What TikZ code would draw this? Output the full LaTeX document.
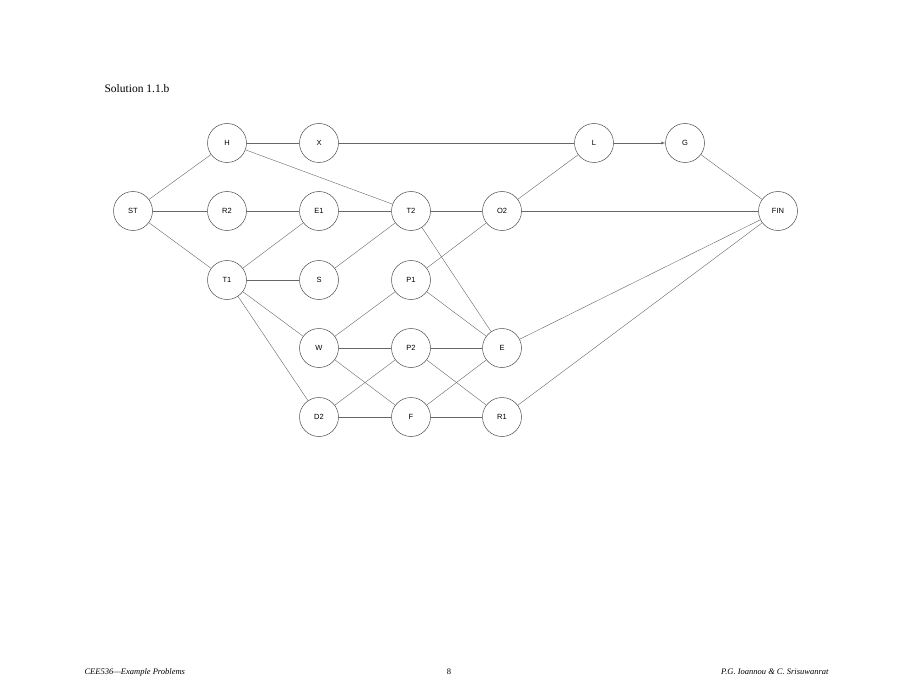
\documentclass[tikz,border=0pt]{standalone}
\usepackage{fontspec}
\setmainfont{Liberation Serif}
\newfontfamily\hv{Liberation Sans}
\begin{document}
\begin{tikzpicture}[x=1pt,y=-1pt,
  nd/.style={circle,draw=black!70,line width=0.5pt,minimum size=39pt,inner sep=0pt,font=\hv\fontsize{7.5}{9}\selectfont},
  ln/.style={draw=black!60,line width=0.4pt}]
\useasboundingbox (0,0) rectangle (899,695);
\node[anchor=west,font=\fontsize{11.5}{13}\selectfont] (title) at (101,89) {Solution 1.1.b};
\foreach \n/\x/\y in {ST/133/211,H/227/143,X/319/143,L/594/143,G/685/143,R2/227/211,E1/319/211,T2/411/211,O2/502/211,FIN/778/211,T1/227/280,S/319/280,P1/411/280,W/319/348,P2/411/348,E/502/348,D2/319/417,F/411/417,R1/502/417}
  \node[nd] (\n) at (\x,\y) {\n};
\foreach \a/\b in {ST/H,ST/R2,ST/T1,H/X,H/T2,X/L,G/FIN,R2/E1,E1/T2,E1/T1,T2/O2,T2/S,T2/E,O2/L,O2/FIN,O2/P1,T1/S,T1/W,T1/D2,P1/W,P1/E,W/P2,W/F,P2/E,P2/R1,P2/D2,D2/F,F/R1,F/E,E/FIN,R1/FIN}
  \draw[ln] (\a) -- (\b);
\draw[ln,-latex] (L) -- (G);
\node[anchor=west,font=\itshape\fontsize{8.5}{10}\selectfont] (f1) at (81,672) {CEE536---Example Problems};
\node[font=\fontsize{8.5}{10}\selectfont] (f2) at (449,672) {8};
\node[anchor=east,font=\itshape\fontsize{8.5}{10}\selectfont] (f3) at (832,672) {P.G. Ioannou \& C. Srisuwanrat};
\end{tikzpicture}
\end{document}
